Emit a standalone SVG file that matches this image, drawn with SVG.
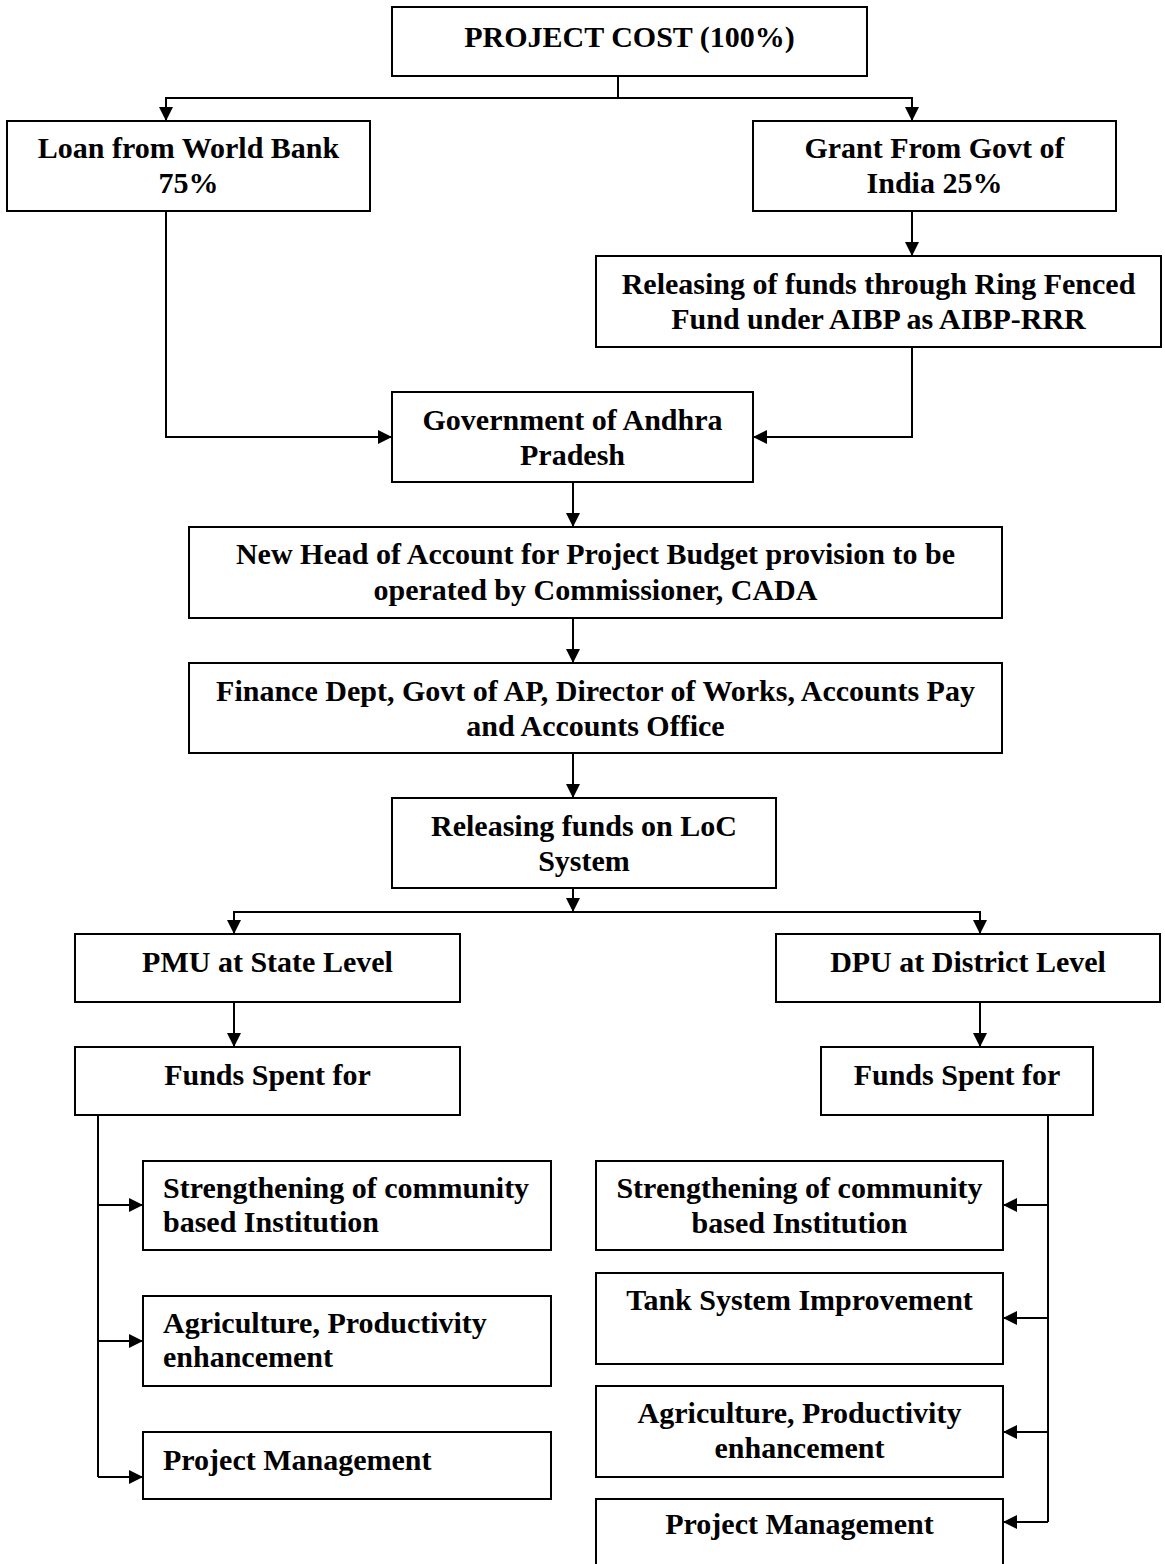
<svg xmlns="http://www.w3.org/2000/svg" width="1165" height="1564" viewBox="0 0 1165 1564">
<style>
rect.box{fill:#fff;stroke:#000;stroke-width:2}
text{font-family:"Liberation Serif","Times New Roman",serif;font-weight:bold;font-size:30px;fill:#000}
text.c{text-anchor:middle}
.conn path{fill:none;stroke:#000;stroke-width:2}
</style>
<defs>
<marker id="ah" markerUnits="userSpaceOnUse" markerWidth="14" markerHeight="14" viewBox="0 0 12 12" refX="12" refY="6" orient="auto">
<path d="M0,0 L12,6 L0,12 z" fill="#000"/>
</marker>
</defs>
<rect width="1165" height="1564" fill="#fff"/>
<g class="conn">
<path d="M618,76 V98"/>
<path d="M618,98 H166 V121" marker-end="url(#ah)"/>
<path d="M618,98 H912 V121" marker-end="url(#ah)"/>
<path d="M912,211 V256" marker-end="url(#ah)"/>
<path d="M912,347 V437 H753" marker-end="url(#ah)"/>
<path d="M166,211 V437 H392" marker-end="url(#ah)"/>
<path d="M573,482 V527" marker-end="url(#ah)"/>
<path d="M573,618 V663" marker-end="url(#ah)"/>
<path d="M573,753 V798" marker-end="url(#ah)"/>
<path d="M573,888 V912" marker-end="url(#ah)"/>
<path d="M573,912 H234 V934" marker-end="url(#ah)"/>
<path d="M573,912 H980 V934" marker-end="url(#ah)"/>
<path d="M234,1002 V1047" marker-end="url(#ah)"/>
<path d="M980,1002 V1047" marker-end="url(#ah)"/>
<path d="M98,1115 V1477"/>
<path d="M98,1205 H143" marker-end="url(#ah)"/>
<path d="M98,1341 H143" marker-end="url(#ah)"/>
<path d="M98,1477 H143" marker-end="url(#ah)"/>
<path d="M1048,1115 V1522"/>
<path d="M1048,1205 H1003" marker-end="url(#ah)"/>
<path d="M1048,1318 H1003" marker-end="url(#ah)"/>
<path d="M1048,1432 H1003" marker-end="url(#ah)"/>
<path d="M1048,1522 H1003" marker-end="url(#ah)"/>
</g>
<g id="project-cost"><rect class="box" x="392" y="7" width="475" height="69"/><text class="c" x="629.5" y="47">PROJECT COST (100%)</text></g>
<g id="loan"><rect class="box" x="7" y="121" width="363" height="90"/><text class="c" x="188.5" y="158">Loan from World Bank</text><text class="c" x="188.5" y="193">75%</text></g>
<g id="grant"><rect class="box" x="753" y="121" width="363" height="90"/><text class="c" x="934.5" y="158">Grant From Govt of</text><text class="c" x="934.5" y="193">India 25%</text></g>
<g id="ring-fenced"><rect class="box" x="596" y="256" width="565" height="91"/><text class="c" x="878.5" y="294">Releasing of funds through Ring Fenced</text><text class="c" x="878.5" y="329">Fund under AIBP as AIBP-RRR</text></g>
<g id="gov-ap"><rect class="box" x="392" y="392" width="361" height="90"/><text class="c" x="572.5" y="430">Government of Andhra</text><text class="c" x="572.5" y="465">Pradesh</text></g>
<g id="new-head"><rect class="box" x="189" y="527" width="813" height="91"/><text class="c" x="595.5" y="564">New Head of Account for Project Budget provision to be</text><text class="c" x="595.5" y="600">operated by Commissioner, CADA</text></g>
<g id="finance"><rect class="box" x="189" y="663" width="813" height="90"/><text class="c" x="595.5" y="701">Finance Dept, Govt of AP, Director of Works, Accounts Pay</text><text class="c" x="595.5" y="736">and Accounts Office</text></g>
<g id="loc"><rect class="box" x="392" y="798" width="384" height="90"/><text class="c" x="584" y="836">Releasing funds on LoC</text><text class="c" x="584" y="871">System</text></g>
<g id="pmu"><rect class="box" x="75" y="934" width="385" height="68"/><text class="c" x="267.5" y="972">PMU at State Level</text></g>
<g id="dpu"><rect class="box" x="776" y="934" width="384" height="68"/><text class="c" x="968" y="972">DPU at District Level</text></g>
<g id="pmu-funds"><rect class="box" x="75" y="1047" width="385" height="68"/><text class="c" x="267.5" y="1085">Funds Spent for</text></g>
<g id="dpu-funds"><rect class="box" x="821" y="1047" width="272" height="68"/><text class="c" x="957" y="1085">Funds Spent for</text></g>
<g id="pmu-cbi"><rect class="box" x="143" y="1161" width="408" height="89"/><text x="163" y="1198">Strengthening of community</text><text x="163" y="1232">based Institution</text></g>
<g id="pmu-agri"><rect class="box" x="143" y="1296" width="408" height="90"/><text x="163" y="1333">Agriculture, Productivity</text><text x="163" y="1367">enhancement</text></g>
<g id="pmu-pm"><rect class="box" x="143" y="1432" width="408" height="67"/><text x="163" y="1470">Project Management</text></g>
<g id="dpu-cbi"><rect class="box" x="596" y="1161" width="407" height="89"/><text class="c" x="799.5" y="1198">Strengthening of community</text><text class="c" x="799.5" y="1233">based Institution</text></g>
<g id="dpu-tank"><rect class="box" x="596" y="1273" width="407" height="91"/><text class="c" x="799.5" y="1310">Tank System Improvement</text></g>
<g id="dpu-agri"><rect class="box" x="596" y="1386" width="407" height="91"/><text class="c" x="799.5" y="1423">Agriculture, Productivity</text><text class="c" x="799.5" y="1458">enhancement</text></g>
<g id="dpu-pm"><rect class="box" x="596" y="1499" width="407" height="91"/><text class="c" x="799.5" y="1534">Project Management</text></g>
</svg>
